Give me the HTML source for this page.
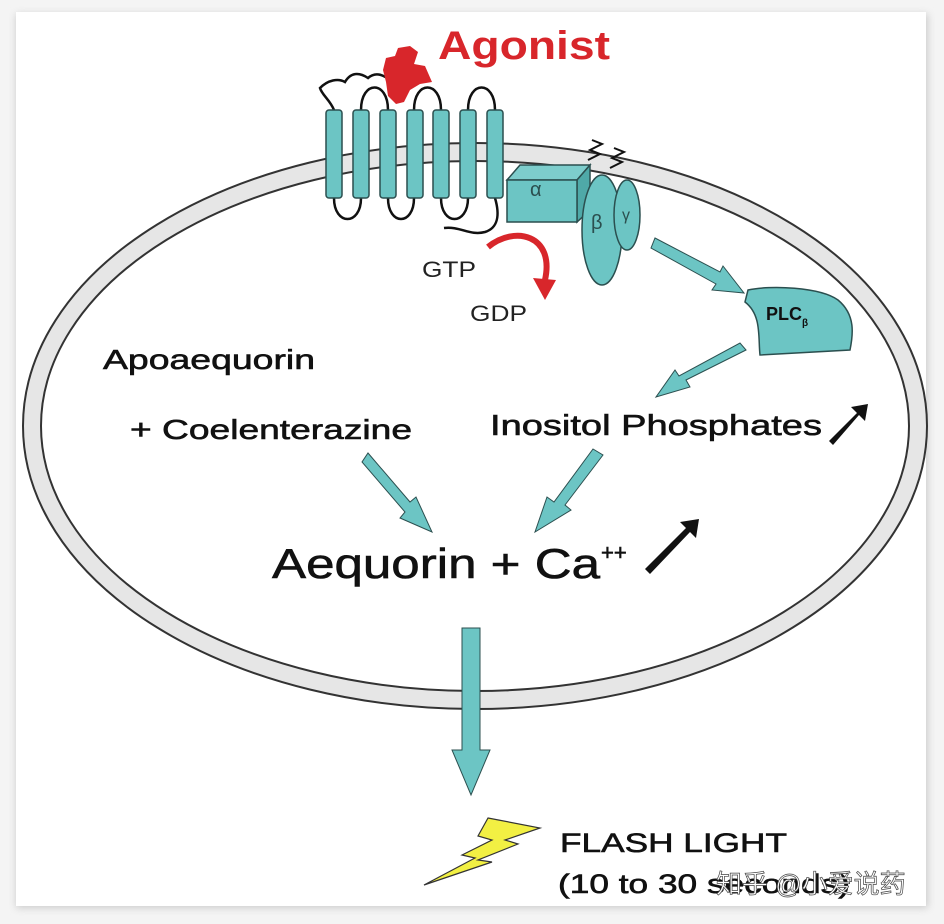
<!DOCTYPE html>
<html><head><meta charset="utf-8"><style>
html,body{margin:0;padding:0;background:#f4f4f4;}
svg{display:block;}
text{font-family:"Liberation Sans","Noto Sans CJK SC",sans-serif;}
</style></head><body>
<svg width="944" height="924" viewBox="0 0 944 924" xmlns="http://www.w3.org/2000/svg">
<defs>
<filter id="sh" x="-5%" y="-5%" width="110%" height="110%"><feGaussianBlur stdDeviation="4"/></filter>
</defs>
<rect x="16" y="14" width="912" height="894" fill="#ccc" filter="url(#sh)"/>
<rect x="16" y="12" width="910" height="894" fill="#fff"/>
<!-- membrane ring -->
<ellipse cx="475" cy="426" rx="443" ry="274" fill="none" stroke="#333" stroke-width="20"/>
<ellipse cx="475" cy="426" rx="443" ry="274" fill="none" stroke="#e6e6e6" stroke-width="16"/>
<!-- loops -->
<g fill="none" stroke="#111" stroke-width="2.5">
<path d="M361,110 C361,80 388,80 388,110"/>
<path d="M414,110 C414,80 441,80 441,110"/>
<path d="M468,110 C468,80 495,80 495,110"/>
<path d="M334,198 C334,226 361,226 361,198"/>
<path d="M388,198 C388,226 414,226 414,198"/>
<path d="M441,198 C441,226 468,226 468,198"/>
<path d="M334,110 C330,100 322,95 320,88 C328,80 338,78 345,82 C352,70 362,74 368,78 C375,72 382,74 390,80"/>
<path d="M495,198 C500,215 498,228 485,232 C470,236 460,226 444,228"/>
</g>
<!-- helices -->
<g fill="#6cc5c4" stroke="#2b4f4f" stroke-width="1.5">
<rect x="326" y="110" width="16" height="88" rx="3"/>
<rect x="353" y="110" width="16" height="88" rx="3"/>
<rect x="380" y="110" width="16" height="88" rx="3"/>
<rect x="407" y="110" width="16" height="88" rx="3"/>
<rect x="433" y="110" width="16" height="88" rx="3"/>
<rect x="460" y="110" width="16" height="88" rx="3"/>
<rect x="487" y="110" width="16" height="88" rx="3"/>
</g>
<!-- agonist blob -->
<path d="M383,70 L386,58 L395,56 L398,48 L410,46 L418,52 L414,64 L425,66 L432,82 L420,84 L410,90 L404,102 L396,104 L388,96 L386,82 Z" fill="#d8262b"/>
<text x="438" y="59" font-size="40" font-weight="bold" fill="#d8262b" textLength="172" lengthAdjust="spacingAndGlyphs">Agonist</text>
<!-- alpha box -->
<g stroke="#2b4f4f" stroke-width="1.5" fill="#6cc5c4">
<path d="M507,180 L520,165 L590,165 L577,180 Z" fill="#7dcdcc"/>
<path d="M577,180 L590,165 L590,210 L577,222 Z" fill="#4fa9a8"/>
<rect x="507" y="180" width="70" height="42"/>
<ellipse cx="602" cy="230" rx="20" ry="55"/>
<ellipse cx="627" cy="215" rx="13" ry="35"/>
</g>
<text x="530" y="196" font-size="20" fill="#2b4f4f" font-family="Liberation Serif,serif">α</text>
<text x="591" y="229" font-size="20" fill="#2b4f4f" font-family="Liberation Serif,serif">β</text>
<text x="622" y="220" font-size="16" fill="#2b4f4f" font-family="Liberation Serif,serif">γ</text>
<path d="M588,160 l12,-6 -10,-4 12,-6 -10,-4 M610,168 l12,-6 -10,-4 12,-6 -10,-4" stroke="#111" stroke-width="2" fill="none"/>
<!-- red curved arrow -->
<path d="M488,247 C515,225 555,235 545,280" fill="none" stroke="#d8262b" stroke-width="6"/>
<path d="M533,278 L545,300 L556,280 Z" fill="#d8262b"/>
<text x="422" y="277" font-size="22" fill="#222" textLength="54" lengthAdjust="spacingAndGlyphs">GTP</text>
<text x="470" y="321" font-size="22" fill="#222" textLength="57" lengthAdjust="spacingAndGlyphs">GDP</text>
<!-- teal arrows -->
<g fill="#6cc5c4" stroke="#2b4f4f" stroke-width="1">
<path d="M655,238 L720,272 L723,266 L744,293 L712,290 L716,284 L651,248 Z"/>
<path d="M746,350 L686,380 L690,387 L656,397 L675,370 L679,376 L740,343 Z"/>
<path d="M368,453 L410,502 L416,497 L432,532 L400,518 L405,512 L362,462 Z"/>
<path d="M603,455 L565,505 L571,510 L535,532 L547,497 L554,502 L593,449 Z"/>
<path d="M462,628 L480,628 L480,750 L490,750 L471,795 L452,750 L462,750 Z"/>
</g>
<!-- PLC -->
<path d="M748,290 C770,285 820,287 838,300 C856,315 853,335 850,350 L760,355 C758,338 762,315 745,302 Z" fill="#6cc5c4" stroke="#2b4f4f" stroke-width="1.5"/>
<text x="766" y="320" font-size="18" font-weight="bold" fill="#111">PLC<tspan font-size="10" dy="6">β</tspan></text>
<!-- text -->
<g fill="#111" stroke="#111" stroke-width="0.6">
<text x="103" y="369" font-size="28" textLength="212" lengthAdjust="spacingAndGlyphs">Apoaequorin</text>
<text x="130" y="439" font-size="28" textLength="282" lengthAdjust="spacingAndGlyphs">+ Coelenterazine</text>
<text x="490" y="435" font-size="29" textLength="332" lengthAdjust="spacingAndGlyphs">Inositol Phosphates</text>
<text x="272" y="578" font-size="42" textLength="328" lengthAdjust="spacingAndGlyphs">Aequorin + Ca</text>
<text x="601" y="560" font-size="22">++</text>
<text x="560" y="852" font-size="27" textLength="227" lengthAdjust="spacingAndGlyphs">FLASH LIGHT</text>
<text x="558" y="893" font-size="27" textLength="292" lengthAdjust="spacingAndGlyphs">(10 to 30 seconds)</text>
</g>
<!-- black arrows -->
<g fill="#111">
<path d="M833,445 L829,441 L857,413 L851,407 L868,404 L865,421 L859,415 Z"/>
<path d="M650,574 L645,569 L686,528 L680,522 L699,519 L696,538 L690,532 Z"/>
</g>
<!-- lightning -->
<path d="M488,818 L540,828 L505,840 L518,844 L478,860 L492,862 L424,885 L475,858 L462,855 L492,840 L478,836 Z" fill="#f2f043" stroke="#333" stroke-width="1.2"/>
<text x="716" y="893" font-size="26" fill="#fff" stroke="#444" stroke-width="0.7">知乎 @小爱说药</text>
</svg>
</body></html>
